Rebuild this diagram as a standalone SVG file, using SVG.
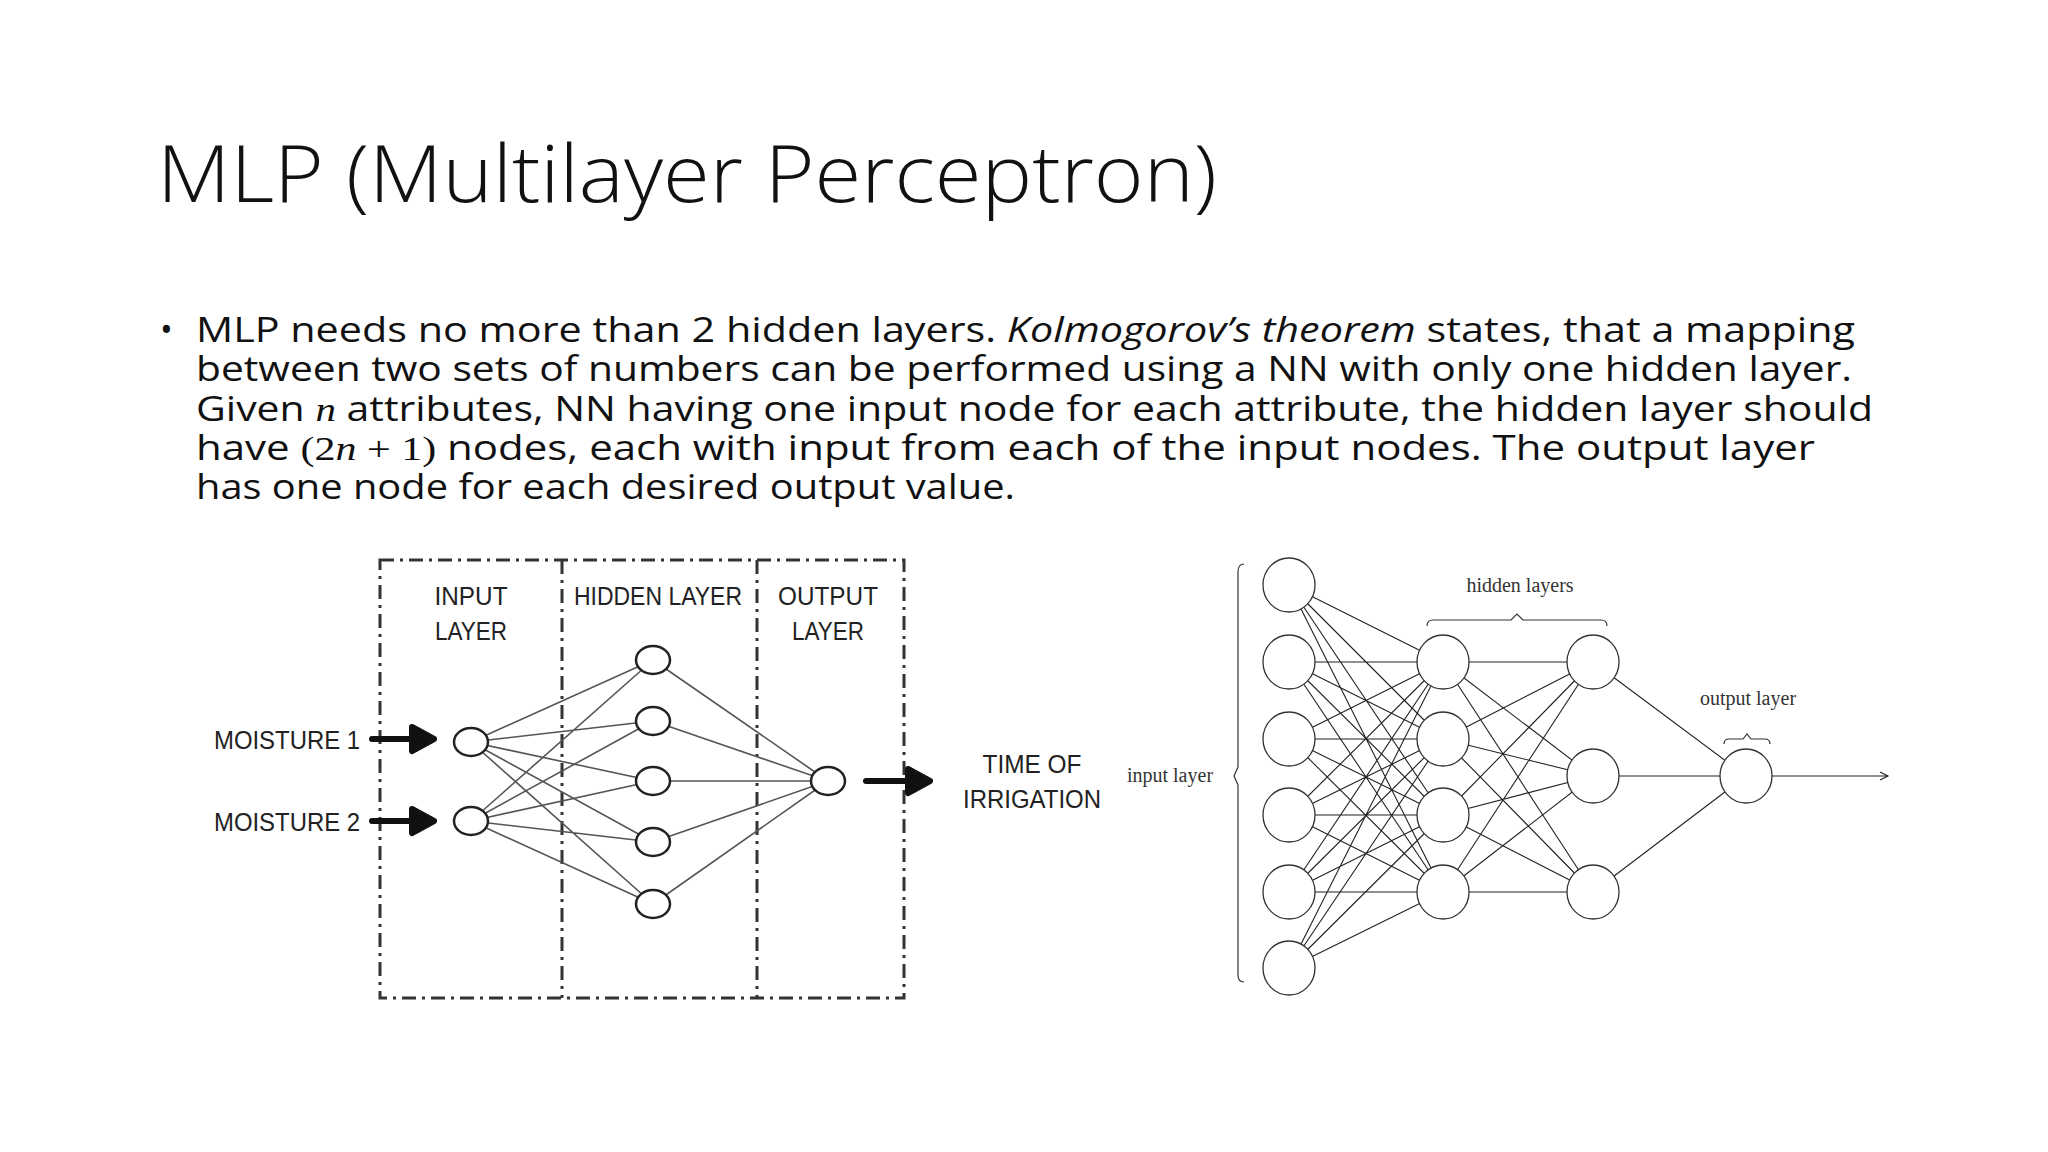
<svg xmlns="http://www.w3.org/2000/svg" width="2048" height="1152" viewBox="0 0 2048 1152">
<style>
.t{font-family:"Open Sans","Liberation Sans",sans-serif;fill:#111}
.cap{font-family:"Liberation Sans Narrow","Liberation Sans",sans-serif;font-size:26px;fill:#222;text-anchor:middle}
.ser{font-family:"Liberation Serif",serif;font-size:20px;fill:#333;text-anchor:middle}
.n1{fill:#fff;stroke:#222;stroke-width:2.5}
.n2{fill:#fff;stroke:#333;stroke-width:1.3}
.dd{fill:none;stroke:#333;stroke-width:3;stroke-dasharray:14 6 3 6}
.c1{fill:none;stroke:#555;stroke-width:1.6}
.c2{fill:none;stroke:#222;stroke-width:1.1}
</style>
<rect width="2048" height="1152" fill="#fff"/>
<text class="t" x="157" y="202" font-size="80" font-weight="300" textLength="1060" lengthAdjust="spacingAndGlyphs">MLP (Multilayer Perceptron)</text>
<g class="t" font-size="34">
<text x="160" y="342">•</text>
<text x="196" y="342" textLength="1659" lengthAdjust="spacingAndGlyphs">MLP needs no more than 2 hidden layers. <tspan font-style="italic">Kolmogorov’s theorem</tspan> states, that a mapping</text>
<text x="196" y="381" textLength="1656" lengthAdjust="spacingAndGlyphs">between two sets of numbers can be performed using a NN with only one hidden layer.</text>
<text x="196" y="421" textLength="1677" lengthAdjust="spacingAndGlyphs">Given <tspan font-family="Liberation Serif" font-style="italic">n</tspan> attributes, NN having one input node for each attribute, the hidden layer should</text>
<text x="196" y="460" textLength="1619" lengthAdjust="spacingAndGlyphs">have <tspan font-family="Liberation Serif">(2<tspan font-style="italic">n</tspan> + 1)</tspan> nodes, each with input from each of the input nodes. The output layer</text>
<text x="196" y="499" textLength="819" lengthAdjust="spacingAndGlyphs">has one node for each desired output value.</text>
</g>
<g id="frame">
<rect class="dd" x="380" y="560" width="524" height="438"/>
<line class="dd" x1="562" y1="560" x2="562" y2="998"/>
<line class="dd" x1="757" y1="560" x2="757" y2="998"/>
</g>
<g id="connectors">
<path class="c1" d="M471 742L653 660M471 742L653 721M471 742L653 781M471 742L653 842M471 742L653 904M471 821L653 660M471 821L653 721M471 821L653 781M471 821L653 842M471 821L653 904M653 660L828 781M653 721L828 781M653 781L828 781M653 842L828 781M653 904L828 781"/>
<path d="M372 739h40v-12l22 12l-22 12v-12z" fill="#111" stroke="#111" stroke-width="6" stroke-linejoin="round"/>
<path d="M372 821h40v-12l22 12l-22 12v-12z" fill="#111" stroke="#111" stroke-width="6" stroke-linejoin="round"/>
<path d="M866 781h42v-12l22 12l-22 12v-12z" fill="#111" stroke="#111" stroke-width="6" stroke-linejoin="round"/>
<path class="c2" d="M1289 585L1443 662M1289 585L1443 739M1289 585L1443 815M1289 585L1443 892M1289 662L1443 662M1289 662L1443 739M1289 662L1443 815M1289 662L1443 892M1289 739L1443 662M1289 739L1443 739M1289 739L1443 815M1289 739L1443 892M1289 815L1443 662M1289 815L1443 739M1289 815L1443 815M1289 815L1443 892M1289 892L1443 662M1289 892L1443 739M1289 892L1443 815M1289 892L1443 892M1289 968L1443 662M1289 968L1443 739M1289 968L1443 815M1289 968L1443 892"/>
<path class="c2" d="M1443 662L1593 662M1443 662L1593 776M1443 662L1593 892M1443 739L1593 662M1443 739L1593 776M1443 739L1593 892M1443 815L1593 662M1443 815L1593 776M1443 815L1593 892M1443 892L1593 662M1443 892L1593 776M1443 892L1593 892M1593 662L1746 776M1593 776L1746 776M1593 892L1746 776"/>
<path class="c2" d="M1772 776H1888M1880 772L1888 776L1880 780"/>
</g>
<g id="left-labels">
<text class="cap" x="471" y="605" textLength="73" lengthAdjust="spacingAndGlyphs">INPUT</text>
<text class="cap" x="471" y="640" textLength="72" lengthAdjust="spacingAndGlyphs">LAYER</text>
<text class="cap" x="658" y="605" textLength="168" lengthAdjust="spacingAndGlyphs">HIDDEN LAYER</text>
<text class="cap" x="828" y="605" textLength="100" lengthAdjust="spacingAndGlyphs">OUTPUT</text>
<text class="cap" x="828" y="640" textLength="72" lengthAdjust="spacingAndGlyphs">LAYER</text>
<text class="cap" x="287" y="749" textLength="146" lengthAdjust="spacingAndGlyphs">MOISTURE 1</text>
<text class="cap" x="287" y="831" textLength="146" lengthAdjust="spacingAndGlyphs">MOISTURE 2</text>
<text class="cap" x="1032" y="773" textLength="99" lengthAdjust="spacingAndGlyphs">TIME OF</text>
<text class="cap" x="1032" y="808" textLength="138" lengthAdjust="spacingAndGlyphs">IRRIGATION</text>
</g>
<g id="in1"><ellipse class="n1" cx="471" cy="742" rx="17" ry="14"/></g>
<g id="in2"><ellipse class="n1" cx="471" cy="821" rx="17" ry="14"/></g>
<g id="h1"><ellipse class="n1" cx="653" cy="660" rx="17" ry="14"/></g>
<g id="h2"><ellipse class="n1" cx="653" cy="721" rx="17" ry="14"/></g>
<g id="h3"><ellipse class="n1" cx="653" cy="781" rx="17" ry="14"/></g>
<g id="h4"><ellipse class="n1" cx="653" cy="842" rx="17" ry="14"/></g>
<g id="h5"><ellipse class="n1" cx="653" cy="904" rx="17" ry="14"/></g>
<g id="out"><ellipse class="n1" cx="828" cy="781" rx="17" ry="14"/></g>
<g id="right-labels">
<text class="ser" x="1520" y="592">hidden layers</text>
<path d="M1427 626q0-6 6-6h78l6-6l6 6h78q6 0 6 6" fill="none" stroke="#333" stroke-width="1.2"/>
<text class="ser" x="1748" y="705">output layer</text>
<path d="M1724 744q0-5 5-5h14l4-5l4 5h14q5 0 5 5" fill="none" stroke="#333" stroke-width="1.2"/>
<text class="ser" x="1170" y="782">input layer</text>
<path d="M1244 564q-6 0-6 8v195l-4 9l4 9v190q0 7 6 7" fill="none" stroke="#333" stroke-width="1.2"/>
</g>
<g id="ri1"><ellipse class="n2" cx="1289" cy="585" rx="26" ry="27"/></g>
<g id="ri2"><ellipse class="n2" cx="1289" cy="662" rx="26" ry="27"/></g>
<g id="ri3"><ellipse class="n2" cx="1289" cy="739" rx="26" ry="27"/></g>
<g id="ri4"><ellipse class="n2" cx="1289" cy="815" rx="26" ry="27"/></g>
<g id="ri5"><ellipse class="n2" cx="1289" cy="892" rx="26" ry="27"/></g>
<g id="ri6"><ellipse class="n2" cx="1289" cy="968" rx="26" ry="27"/></g>
<g id="rh1"><ellipse class="n2" cx="1443" cy="662" rx="26" ry="27"/></g>
<g id="rh2"><ellipse class="n2" cx="1443" cy="739" rx="26" ry="27"/></g>
<g id="rh3"><ellipse class="n2" cx="1443" cy="815" rx="26" ry="27"/></g>
<g id="rh4"><ellipse class="n2" cx="1443" cy="892" rx="26" ry="27"/></g>
<g id="rg1"><ellipse class="n2" cx="1593" cy="662" rx="26" ry="27"/></g>
<g id="rg2"><ellipse class="n2" cx="1593" cy="776" rx="26" ry="27"/></g>
<g id="rg3"><ellipse class="n2" cx="1593" cy="892" rx="26" ry="27"/></g>
<g id="ro"><ellipse class="n2" cx="1746" cy="776" rx="26" ry="27"/></g>
</svg>
